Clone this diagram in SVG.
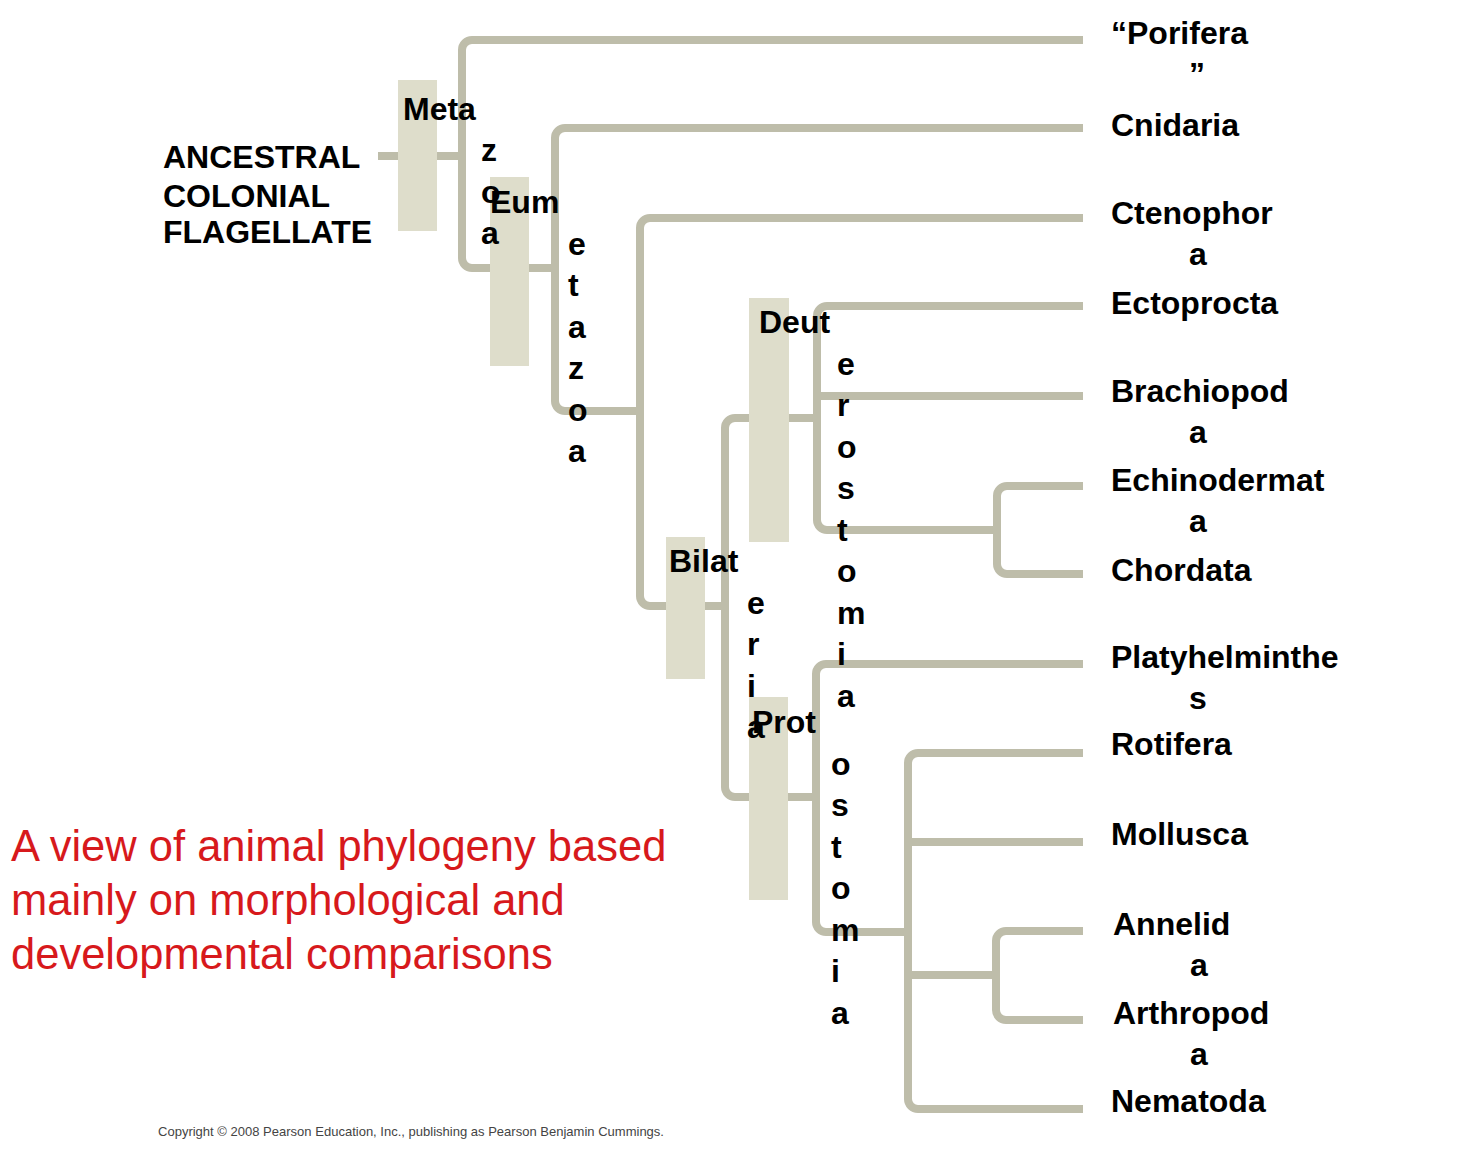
<svg xmlns="http://www.w3.org/2000/svg" width="1457" height="1163" viewBox="0 0 1457 1163">
<style>
.br{fill:none;stroke:#BEBDAA;stroke-width:8;}
.box{fill:#DEDDCB;}
.lb{font-family:"Liberation Sans",Arial,sans-serif;font-weight:bold;font-size:32px;fill:#000;}
.title{font-family:"Liberation Sans",Arial,sans-serif;font-size:43.5px;fill:#D7191C;}
.copy{font-family:"Liberation Sans",Arial,sans-serif;font-size:13px;fill:#444;}
</style>
<rect width="1457" height="1163" fill="#fff"/>
<g id="connectors">
<path class="br" d="M378,156 H462"/>
<path class="br" d="M1083,40 H472 A10,10 0 0 0 462,50 V258 A10,10 0 0 0 472,268 H555"/>
<path class="br" d="M1083,128 H565 A10,10 0 0 0 555,138 V401 A10,10 0 0 0 565,411 H640"/>
<path class="br" d="M1083,218 H650 A10,10 0 0 0 640,228 V596 A10,10 0 0 0 650,606 H725"/>
<path class="br" d="M817,418 H735 A10,10 0 0 0 725,428 V787 A10,10 0 0 0 735,797 H816"/>
<path class="br" d="M1083,306 H827 A10,10 0 0 0 817,316 V520 A10,10 0 0 0 827,530 H997"/>
<path class="br" d="M817,396 H1083"/>
<path class="br" d="M1083,486 H1007 A10,10 0 0 0 997,496 V564 A10,10 0 0 0 1007,574 H1083"/>
<path class="br" d="M1083,664 H826 A10,10 0 0 0 816,674 V922 A10,10 0 0 0 826,932 H908"/>
<path class="br" d="M1083,753 H918 A10,10 0 0 0 908,763 V1099 A10,10 0 0 0 918,1109 H1083"/>
<path class="br" d="M908,842 H1083"/>
<path class="br" d="M908,975 H996"/>
<path class="br" d="M1083,931 H1006 A10,10 0 0 0 996,941 V1010 A10,10 0 0 0 1006,1020 H1083"/>
</g>
<g id="ancestor">
<text class="lb" x="163" y="168">ANCESTRAL</text>
<text class="lb" x="163" y="207">COLONIAL</text>
<text class="lb" x="163" y="243">FLAGELLATE</text>
</g>
<g id="eumetazoa">
<rect class="box" x="490" y="177" width="39" height="189"/>
<text class="lb"><tspan x="490" y="213">Eum</tspan><tspan x="568" y="254.5">e</tspan><tspan x="568" y="296">t</tspan><tspan x="568" y="337.5">a</tspan><tspan x="568" y="379">z</tspan><tspan x="568" y="420.5">o</tspan><tspan x="568" y="462">a</tspan></text>
</g>
<g id="metazoa">
<rect class="box" x="398" y="80" width="39" height="151"/>
<text class="lb"><tspan x="403" y="120">Meta</tspan><tspan x="481" y="161">z</tspan><tspan x="481" y="202.5">o</tspan><tspan x="481" y="244">a</tspan></text>
</g>
<g id="deuterostomia">
<rect class="box" x="749" y="298" width="40" height="244"/>
<text class="lb"><tspan x="759" y="333">Deut</tspan><tspan x="837" y="374.5">e</tspan><tspan x="837" y="416">r</tspan><tspan x="837" y="457.5">o</tspan><tspan x="837" y="499">s</tspan><tspan x="837" y="540.5">t</tspan><tspan x="837" y="582">o</tspan><tspan x="837" y="623.5">m</tspan><tspan x="837" y="665">i</tspan><tspan x="837" y="706.5">a</tspan></text>
</g>
<g id="protostomia">
<rect class="box" x="749" y="697" width="39" height="203"/>
<text class="lb"><tspan x="752" y="733">Prot</tspan><tspan x="831" y="774.5">o</tspan><tspan x="831" y="816">s</tspan><tspan x="831" y="857.5">t</tspan><tspan x="831" y="899">o</tspan><tspan x="831" y="940.5">m</tspan><tspan x="831" y="982">i</tspan><tspan x="831" y="1023.5">a</tspan></text>
</g>
<g id="bilateria">
<rect class="box" x="666" y="537" width="39" height="142"/>
<text class="lb"><tspan x="669" y="572">Bilat</tspan><tspan x="747" y="613.5">e</tspan><tspan x="747" y="655">r</tspan><tspan x="747" y="696.5">i</tspan><tspan x="747" y="738">a</tspan></text>
</g>
<g id="porifera"><text class="lb"><tspan x="1111" y="44">“Porifera</tspan><tspan x="1189" y="85">”</tspan></text></g>
<g id="cnidaria"><text class="lb" x="1111" y="136">Cnidaria</text></g>
<g id="ctenophora"><text class="lb"><tspan x="1111" y="224">Ctenophor</tspan><tspan x="1189" y="265">a</tspan></text></g>
<g id="ectoprocta"><text class="lb" x="1111" y="314">Ectoprocta</text></g>
<g id="brachiopoda"><text class="lb"><tspan x="1111" y="402">Brachiopod</tspan><tspan x="1189" y="443">a</tspan></text></g>
<g id="echinodermata"><text class="lb"><tspan x="1111" y="491">Echinodermat</tspan><tspan x="1189" y="532">a</tspan></text></g>
<g id="chordata"><text class="lb" x="1111" y="581">Chordata</text></g>
<g id="platyhelminthes"><text class="lb"><tspan x="1111" y="668">Platyhelminthe</tspan><tspan x="1189" y="709">s</tspan></text></g>
<g id="rotifera"><text class="lb" x="1111" y="755">Rotifera</text></g>
<g id="mollusca"><text class="lb" x="1111" y="845">Mollusca</text></g>
<g id="annelida"><text class="lb"><tspan x="1113" y="935">Annelid</tspan><tspan x="1190" y="976">a</tspan></text></g>
<g id="arthropoda"><text class="lb"><tspan x="1113" y="1024">Arthropod</tspan><tspan x="1190" y="1065">a</tspan></text></g>
<g id="nematoda"><text class="lb" x="1111" y="1112">Nematoda</text></g>
<g id="caption">
<text class="title" x="11" y="861">A view of animal phylogeny based</text>
<text class="title" x="11" y="915">mainly on morphological and</text>
<text class="title" x="11" y="969">developmental comparisons</text>
</g>
<text class="copy" x="158" y="1136" textLength="506" lengthAdjust="spacingAndGlyphs">Copyright © 2008 Pearson Education, Inc., publishing as Pearson Benjamin Cummings.</text>
</svg>
